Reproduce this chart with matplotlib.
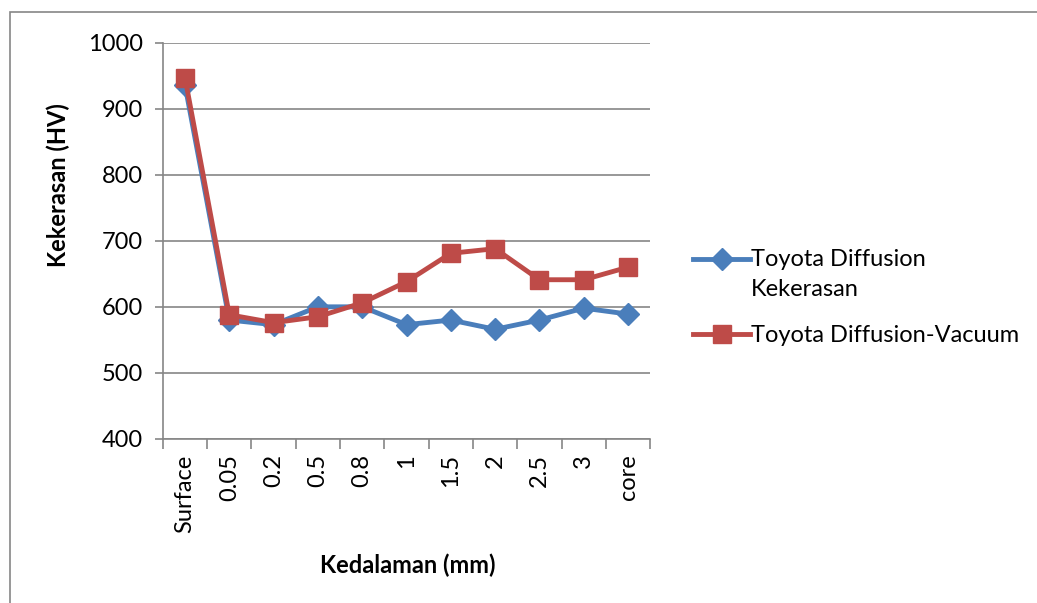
import matplotlib.pyplot as plt
from matplotlib.patches import Rectangle
from matplotlib.legend_handler import HandlerLine2D

# Hardness profile data
depth = ["Surface", "0.05", "0.2", "0.5", "0.8", "1", "1.5", "2", "2.5", "3", "core"]
hv_diffusion = [936, 580, 573, 600, 600, 573, 580, 566, 580, 598, 589]
hv_vacuum = [947, 588, 576, 585, 606, 638, 681, 688, 641, 641, 660]


class TopLineHandler(HandlerLine2D):
    """Legend handle aligned with the first line of a two-line label"""
    def __init__(self, shift, **kw):
        super().__init__(**kw)
        self.shift = shift

    def create_artists(self, legend, orig_handle, xdescent, ydescent,
                       width, height, fontsize, trans):
        artists = super().create_artists(legend, orig_handle, xdescent, ydescent,
                                         width, height, fontsize, trans)
        for a in artists:
            a.set_ydata([y + self.shift for y in a.get_ydata()])
        return artists


plt.rcParams['font.family'] = ['Lato', 'DejaVu Sans']
fs = 17

fig = plt.figure(figsize=(10.37, 6.03), dpi=100)
ax = fig.add_axes([0.157, 0.272, 0.470, 0.6575])

# Outer chart border
fig.patches.append(Rectangle((10 / 1037, -0.1), 1.2, 1 - 12 / 603 + 0.1,
                             transform=fig.transFigure, fill=False,
                             edgecolor="#868686", linewidth=1.2))

x = list(range(len(depth)))
l1, = ax.plot(x, hv_diffusion, color="#4A7EBB", linewidth=3.5, marker="D",
              markersize=11.5, label="Toyota Diffusion\nKekerasan", zorder=3)
l2, = ax.plot(x, hv_vacuum, color="#BE4B48", linewidth=3.5, marker="s",
              markersize=13.5, label="Toyota Diffusion-Vacuum", zorder=4)

ax.set_xlim(-0.5, len(depth) - 0.5)
ax.set_ylim(400, 1000)
ax.set_yticks(range(400, 1001, 100))
ax.set_xticks(x)
ax.set_xticklabels(depth, rotation=90, fontsize=fs)
ax.tick_params(axis='x', length=0, pad=11)
ax.set_xticks([i - 0.5 for i in range(len(depth) + 1)], minor=True)
ax.tick_params(axis='x', which='minor', length=7, width=1.2, color="#868686")
ax.tick_params(axis='y', labelsize=fs, length=6, width=1.2, color="#868686", pad=8)

ax.grid(axis='y', color="#868686", linewidth=1.2)
ax.set_axisbelow(True)
for s in ["top", "right"]:
    ax.spines[s].set_visible(False)
for s in ["left", "bottom"]:
    ax.spines[s].set_color("#868686")
    ax.spines[s].set_linewidth(1.2)

ax.set_xlabel("Kedalaman (mm)", fontsize=fs, fontweight="bold")
ax.xaxis.set_label_coords(0.502, -0.288)
ax.set_ylabel("Kekerasan (HV)", fontsize=fs, fontweight="bold")
ax.yaxis.set_label_coords(-0.19, 0.64)

leg = ax.legend(handles=[l1, l2], loc="center left", bbox_to_anchor=(1.045, 0.357),
                frameon=False, fontsize=fs, handlelength=2.4, handletextpad=0.05,
                labelspacing=1.05,
                handler_map={l1: TopLineHandler(11.5)})
for t in leg.get_texts():
    t.set_linespacing(1.55)

plt.savefig("out.png", dpi=100)
